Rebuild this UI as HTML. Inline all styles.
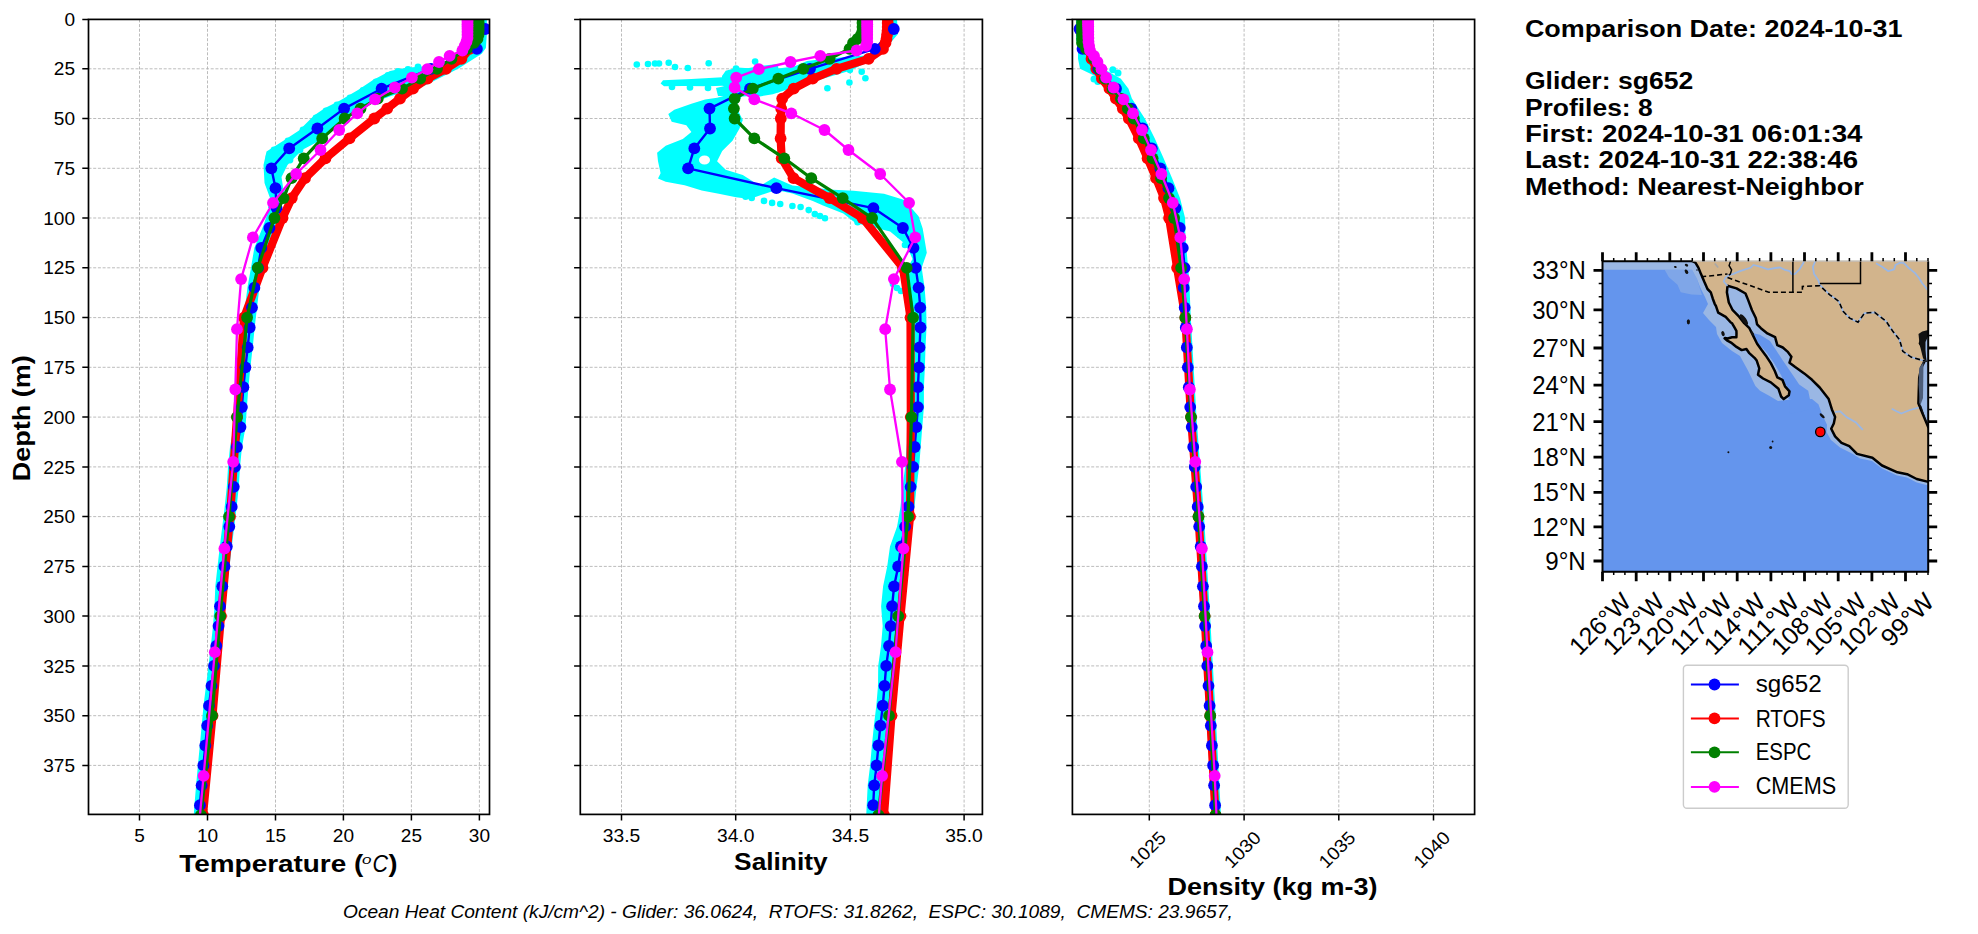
<!DOCTYPE html><html><head><meta charset="utf-8"><style>html,body{margin:0;padding:0;background:#fff;overflow:hidden}</style></head><body><svg width="1978" height="934" viewBox="0 0 1978 934" style="display:block;font-family:'Liberation Sans',sans-serif">
<rect width="100%" height="100%" fill="#fff"/>
<defs>
<clipPath id="ax0"><rect x="88.5" y="19.4" width="401.0" height="795.0"/></clipPath>
<clipPath id="ax1"><rect x="580.3" y="19.4" width="402.1" height="795.0"/></clipPath>
<clipPath id="ax2"><rect x="1072.4" y="19.4" width="402.1999999999998" height="795.0"/></clipPath>
</defs>
<path d="M88.5 68.8H489.5M88.5 118.5H489.5M88.5 168.3H489.5M88.5 218H489.5M88.5 267.8H489.5M88.5 317.6H489.5M88.5 367.3H489.5M88.5 417.1H489.5M88.5 466.9H489.5M88.5 516.6H489.5M88.5 566.4H489.5M88.5 616.1H489.5M88.5 665.9H489.5M88.5 715.7H489.5M88.5 765.4H489.5M139.5 19.4V814.4M207.5 19.4V814.4M275.5 19.4V814.4M343.4 19.4V814.4M411.4 19.4V814.4M479.4 19.4V814.4" stroke="#b0b0b0" stroke-width="0.85" stroke-dasharray="3 1.7" fill="none"/>
<g clip-path="url(#ax0)">
<polygon points="471,19.4 471,40 466,50 455,58 430,66 406,67.7 390,71 373,80 358,90 340,100.5 325,108 314,115.4 299,130.4 283,140.9 266.5,151.4 263.5,165 264.5,183 270,198 268,208 269.6,208.1 262.4,228 254.3,247.9 251,267.8 247.4,287.7 245,307.6 242.7,327.5 240.7,347.4 238.4,367.3 236.4,387.2 234.9,407.1 233.5,427.1 230,447 228,466.9 226.8,486.8 224.7,506.7 222.3,526.6 219.8,546.5 217.5,566.4 215.3,586.3 214.5,606.2 213,626.1 210.8,646 208.5,665.9 206,685.8 203.5,705.7 201.7,725.6 199.8,745.5 197.9,765.4 196.1,785.3 194.4,805.2 193.5,819.4 204,819.4 204.9,805.2 206.6,785.3 208.4,765.4 210.3,745.5 212.2,725.6 214,705.7 216.5,685.8 219,665.9 221.3,646 223.5,626.1 225,606.2 227.3,586.3 229.5,566.4 231.8,546.5 234.3,526.6 236.7,506.7 238.8,486.8 240,466.9 242,447 245.5,427.1 246.9,407.1 248.4,387.2 250.4,367.3 252.7,347.4 254.7,327.5 257,307.6 259.4,287.7 263,267.8 266.3,247.9 274.4,228 281.6,208.1 283,187 281.5,177 287.5,165 302,150 322,139.4 343,117 367,105 391,96 425,85.5 458.6,68.6 472.7,59.6 481.7,53.8 485.9,48 486.8,35 486.8,19.4" fill="#00ffff" />
<g fill="#00ffff"><circle cx="408" cy="69.5" r="3.4" fill="#00ffff"/><circle cx="398" cy="71.5" r="3.4" fill="#00ffff"/><circle cx="388" cy="75.5" r="3.4" fill="#00ffff"/><circle cx="376" cy="82" r="3.4" fill="#00ffff"/><circle cx="363" cy="90.5" r="3.4" fill="#00ffff"/><circle cx="350" cy="98" r="3.4" fill="#00ffff"/><circle cx="337" cy="105" r="3.4" fill="#00ffff"/><circle cx="326" cy="111" r="3.4" fill="#00ffff"/><circle cx="316" cy="118" r="3.4" fill="#00ffff"/><circle cx="303" cy="130" r="3.4" fill="#00ffff"/><circle cx="288" cy="141" r="3.4" fill="#00ffff"/><circle cx="274" cy="150" r="3.4" fill="#00ffff"/><circle cx="269" cy="157" r="3.4" fill="#00ffff"/><circle cx="268" cy="170" r="3.4" fill="#00ffff"/><circle cx="269" cy="184" r="3.4" fill="#00ffff"/><circle cx="430" cy="68" r="3.4" fill="#00ffff"/><circle cx="445" cy="66" r="3.4" fill="#00ffff"/><circle cx="455" cy="63" r="3.4" fill="#00ffff"/><circle cx="418" cy="67" r="3.4" fill="#00ffff"/><circle cx="300" cy="150" r="3.4" fill="#00ffff"/><circle cx="290" cy="160" r="3.4" fill="#00ffff"/><circle cx="278" cy="200" r="3.4" fill="#00ffff"/><circle cx="282" cy="193" r="3.4" fill="#00ffff"/></g>
<polyline points="485.2,29 476.9,48.9 431,68.8 381.6,88.7 344.1,108.6 317.4,128.5 289.2,148.4 271.4,168.3 275.5,188.2 276.6,208.1 269.4,228 261.3,247.9 258,267.8 254.4,287.7 252,307.6 249.7,327.5 247.7,347.4 245.4,367.3 243.4,387.2 241.9,407.1 240.5,427.1 237,447 235,466.9 233.8,486.8 231.7,506.7 229.3,526.6 226.8,546.5 224.5,566.4 222.3,586.3 220,606.2 218.5,626.1 216.3,646 214,665.9 211.5,685.8 209,705.7 207.2,725.6 205.3,745.5 203.4,765.4 201.6,785.3 199.9,805.2" fill="none" stroke="#0000ff" stroke-width="2.4" stroke-linejoin="round" stroke-linecap="round"/>
<polyline points="474,19 474,23 474,27 474,30.9 474,34.9 473.5,38.9 472.5,42.9 469.6,48.9 461.4,58.8 446,68.8 427.5,78.7 413,88.7 400,98.6 387.2,108.6 374.3,118.5 349.5,138.4 325.5,158.3 305,178.2 291.8,198.1 282.5,218 262.5,267.8 244,317.6 237,417.1 230,516.6 221,616.1 212.5,715.7 203,815.2" fill="none" stroke="#ff0000" stroke-width="8.2" stroke-linejoin="round" stroke-linecap="round"/>
<g fill="#ff0000"><circle cx="474" cy="19" r="5.9"/><circle cx="474" cy="23" r="5.9"/><circle cx="474" cy="27" r="5.9"/><circle cx="474" cy="30.9" r="5.9"/><circle cx="474" cy="34.9" r="5.9"/><circle cx="473.5" cy="38.9" r="5.9"/><circle cx="472.5" cy="42.9" r="5.9"/><circle cx="469.6" cy="48.9" r="5.9"/><circle cx="461.4" cy="58.8" r="5.9"/><circle cx="446" cy="68.8" r="5.9"/><circle cx="427.5" cy="78.7" r="5.9"/><circle cx="413" cy="88.7" r="5.9"/><circle cx="400" cy="98.6" r="5.9"/><circle cx="387.2" cy="108.6" r="5.9"/><circle cx="374.3" cy="118.5" r="5.9"/><circle cx="349.5" cy="138.4" r="5.9"/><circle cx="325.5" cy="158.3" r="5.9"/><circle cx="305" cy="178.2" r="5.9"/><circle cx="291.8" cy="198.1" r="5.9"/><circle cx="282.5" cy="218" r="5.9"/><circle cx="262.5" cy="267.8" r="5.9"/><circle cx="244" cy="317.6" r="5.9"/><circle cx="237" cy="417.1" r="5.9"/><circle cx="230" cy="516.6" r="5.9"/><circle cx="221" cy="616.1" r="5.9"/><circle cx="212.5" cy="715.7" r="5.9"/><circle cx="203" cy="815.2" r="5.9"/></g>
<g fill="#0000ff"><circle cx="485.2" cy="29" r="5.9"/><circle cx="476.9" cy="48.9" r="5.9"/><circle cx="431" cy="68.8" r="5.9"/><circle cx="381.6" cy="88.7" r="5.9"/><circle cx="344.1" cy="108.6" r="5.9"/><circle cx="317.4" cy="128.5" r="5.9"/><circle cx="289.2" cy="148.4" r="5.9"/><circle cx="271.4" cy="168.3" r="5.9"/><circle cx="275.5" cy="188.2" r="5.9"/><circle cx="276.6" cy="208.1" r="5.9"/><circle cx="269.4" cy="228" r="5.9"/><circle cx="261.3" cy="247.9" r="5.9"/><circle cx="258" cy="267.8" r="5.9"/><circle cx="254.4" cy="287.7" r="5.9"/><circle cx="252" cy="307.6" r="5.9"/><circle cx="249.7" cy="327.5" r="5.9"/><circle cx="247.7" cy="347.4" r="5.9"/><circle cx="245.4" cy="367.3" r="5.9"/><circle cx="243.4" cy="387.2" r="5.9"/><circle cx="241.9" cy="407.1" r="5.9"/><circle cx="240.5" cy="427.1" r="5.9"/><circle cx="237" cy="447" r="5.9"/><circle cx="235" cy="466.9" r="5.9"/><circle cx="233.8" cy="486.8" r="5.9"/><circle cx="231.7" cy="506.7" r="5.9"/><circle cx="229.3" cy="526.6" r="5.9"/><circle cx="226.8" cy="546.5" r="5.9"/><circle cx="224.5" cy="566.4" r="5.9"/><circle cx="222.3" cy="586.3" r="5.9"/><circle cx="220" cy="606.2" r="5.9"/><circle cx="218.5" cy="626.1" r="5.9"/><circle cx="216.3" cy="646" r="5.9"/><circle cx="214" cy="665.9" r="5.9"/><circle cx="211.5" cy="685.8" r="5.9"/><circle cx="209" cy="705.7" r="5.9"/><circle cx="207.2" cy="725.6" r="5.9"/><circle cx="205.3" cy="745.5" r="5.9"/><circle cx="203.4" cy="765.4" r="5.9"/><circle cx="201.6" cy="785.3" r="5.9"/><circle cx="199.9" cy="805.2" r="5.9"/></g>
<polyline points="478.7,19 478.7,23 478.7,27 478.7,30.9 478.5,34.9 477.5,38.9 474,42.9 467,48.9 451.5,58.8 437,68.8 420.2,78.7 402,88.7 377.8,98.6 360.5,108.6 344.6,118.5 322.2,138.4 303.7,158.3 291.5,178.2 283.6,198.1 274.4,218 257.8,267.8 247.1,317.6 237,417.1 229,516.6 220.2,616.1 212,715.7 200.9,815.2" fill="none" stroke="#008000" stroke-width="3.2" stroke-linejoin="round" stroke-linecap="round"/>
<g fill="#008000"><circle cx="478.7" cy="19" r="5.9"/><circle cx="478.7" cy="23" r="5.9"/><circle cx="478.7" cy="27" r="5.9"/><circle cx="478.7" cy="30.9" r="5.9"/><circle cx="478.5" cy="34.9" r="5.9"/><circle cx="477.5" cy="38.9" r="5.9"/><circle cx="474" cy="42.9" r="5.9"/><circle cx="467" cy="48.9" r="5.9"/><circle cx="451.5" cy="58.8" r="5.9"/><circle cx="437" cy="68.8" r="5.9"/><circle cx="420.2" cy="78.7" r="5.9"/><circle cx="402" cy="88.7" r="5.9"/><circle cx="377.8" cy="98.6" r="5.9"/><circle cx="360.5" cy="108.6" r="5.9"/><circle cx="344.6" cy="118.5" r="5.9"/><circle cx="322.2" cy="138.4" r="5.9"/><circle cx="303.7" cy="158.3" r="5.9"/><circle cx="291.5" cy="178.2" r="5.9"/><circle cx="283.6" cy="198.1" r="5.9"/><circle cx="274.4" cy="218" r="5.9"/><circle cx="257.8" cy="267.8" r="5.9"/><circle cx="247.1" cy="317.6" r="5.9"/><circle cx="237" cy="417.1" r="5.9"/><circle cx="229" cy="516.6" r="5.9"/><circle cx="220.2" cy="616.1" r="5.9"/><circle cx="212" cy="715.7" r="5.9"/><circle cx="200.9" cy="815.2" r="5.9"/></g>
<polyline points="467.5,20 467.5,22.1 467.5,24.3 467.5,26.6 467.5,29.1 467.5,31.8 467.5,34.8 467.5,38.1 466.5,41.7 464.7,45.8 462.4,50.5 449.6,55.8 439,62 427.4,69.2 411.9,77.6 394.8,87.5 375,99.3 357.3,113.3 339.2,130 320.5,150 296.2,174 273,202.8 252.9,237.4 241.1,279.1 237,329.2 235.3,389.5 233.2,461.8 224.4,548.6 214.8,652.2 203.6,775.8 190,922.6" fill="none" stroke="#ff00ff" stroke-width="2.3" stroke-linejoin="round" stroke-linecap="round"/>
<g fill="#ff00ff"><circle cx="467.5" cy="20" r="5.9"/><circle cx="467.5" cy="22.1" r="5.9"/><circle cx="467.5" cy="24.3" r="5.9"/><circle cx="467.5" cy="26.6" r="5.9"/><circle cx="467.5" cy="29.1" r="5.9"/><circle cx="467.5" cy="31.8" r="5.9"/><circle cx="467.5" cy="34.8" r="5.9"/><circle cx="467.5" cy="38.1" r="5.9"/><circle cx="466.5" cy="41.7" r="5.9"/><circle cx="464.7" cy="45.8" r="5.9"/><circle cx="462.4" cy="50.5" r="5.9"/><circle cx="449.6" cy="55.8" r="5.9"/><circle cx="439" cy="62" r="5.9"/><circle cx="427.4" cy="69.2" r="5.9"/><circle cx="411.9" cy="77.6" r="5.9"/><circle cx="394.8" cy="87.5" r="5.9"/><circle cx="375" cy="99.3" r="5.9"/><circle cx="357.3" cy="113.3" r="5.9"/><circle cx="339.2" cy="130" r="5.9"/><circle cx="320.5" cy="150" r="5.9"/><circle cx="296.2" cy="174" r="5.9"/><circle cx="273" cy="202.8" r="5.9"/><circle cx="252.9" cy="237.4" r="5.9"/><circle cx="241.1" cy="279.1" r="5.9"/><circle cx="237" cy="329.2" r="5.9"/><circle cx="235.3" cy="389.5" r="5.9"/><circle cx="233.2" cy="461.8" r="5.9"/><circle cx="224.4" cy="548.6" r="5.9"/><circle cx="214.8" cy="652.2" r="5.9"/><circle cx="203.6" cy="775.8" r="5.9"/><circle cx="190" cy="922.6" r="5.9"/></g>
</g>
<rect x="88.5" y="19.4" width="401" height="795" fill="none" stroke="#000" stroke-width="1.7"/>
<path d="M82.3 19.4H88.5M82.3 68.8H88.5M82.3 118.5H88.5M82.3 168.3H88.5M82.3 218H88.5M82.3 267.8H88.5M82.3 317.6H88.5M82.3 367.3H88.5M82.3 417.1H88.5M82.3 466.9H88.5M82.3 516.6H88.5M82.3 566.4H88.5M82.3 616.1H88.5M82.3 665.9H88.5M82.3 715.7H88.5M82.3 765.4H88.5M139.5 814.4V820.6M207.5 814.4V820.6M275.5 814.4V820.6M343.4 814.4V820.6M411.4 814.4V820.6M479.4 814.4V820.6" stroke="#000" stroke-width="1.5" fill="none"/>
<path d="M580.3 68.8H982.4M580.3 118.5H982.4M580.3 168.3H982.4M580.3 218H982.4M580.3 267.8H982.4M580.3 317.6H982.4M580.3 367.3H982.4M580.3 417.1H982.4M580.3 466.9H982.4M580.3 516.6H982.4M580.3 566.4H982.4M580.3 616.1H982.4M580.3 665.9H982.4M580.3 715.7H982.4M580.3 765.4H982.4M621.5 19.4V814.4M735.7 19.4V814.4M850.4 19.4V814.4M964.1 19.4V814.4" stroke="#b0b0b0" stroke-width="0.85" stroke-dasharray="3 1.7" fill="none"/>
<g clip-path="url(#ax1)">
<polygon points="897,19.4 898,34 890.6,42.8 876.7,54.6 849.9,56.8 823.1,58.9 807,61 794.2,66.4 769.6,69.6 737.5,67.5 725.7,70.7 722,76 722,85 729,90 742.8,94.4 760,96.4 772.8,94.2 785.7,89.9 817.8,80.3 849.9,70.7 876.7,57.8 888.4,47.1 893,19.4" fill="#00ffff" />
<polygon points="660.6,83.5 663,80.3 691.4,79 722.2,77.2 729.1,72.1 736,67 740,72 735,84 729.1,85.5 708.5,86.2 682.8,86 664,86.2" fill="#00ffff" />
<polygon points="716,88 729,85 738,84 738,96 718,96" fill="#00ffff" />
<polygon points="738,70 760,66 778,64 780,92 760,95 738,97" fill="#00ffff" />
<path d="M729.1,94.4 717.1,97.8 705.1,99.6 691.4,103.8 674.3,109.8 668.3,114.1 671.7,121.8 686.3,125.3 691.4,132.1 682.8,139 665.7,145.8 657.1,152.7 658,161.2 660.6,173.2 658,178.4 665.7,181.8 684.6,185.2 701.7,190.4 718.8,193.8 736,197.2 749.7,198.9 776.2,190 792.4,193.5 812.8,201 823,205.5 843.3,213.5 855.5,223 890.1,231.5 906.4,245 912.5,259 907.7,267.8 910.6,287.7 912.2,307.6 912.5,327.5 911.5,347.4 910.9,367.3 909.9,387.2 909.9,407.1 908.3,427.1 906.7,447 905.1,466.9 902.6,486.8 900.5,506.7 897.1,526.6 890,546.5 887.2,566.4 883.1,586.3 881.1,606.2 882.7,626.1 881,646 878.2,665.9 878,685.8 876.3,705.7 873.9,725.6 871.9,745.5 870.1,765.4 867.7,785.3 866.7,805.2 866,819.4 880,819.4 879.2,805.2 880.2,785.3 882.6,765.4 884.4,745.5 886.4,725.6 888.8,705.7 890.5,685.8 892.2,665.9 895,646 896.7,626.1 898.1,606.2 900.1,586.3 904.2,566.4 907,546.5 911.1,526.6 914.5,506.7 916.6,486.8 919.1,466.9 920.7,447 922.3,427.1 923.9,407.1 923.9,387.2 924.9,367.3 925.5,347.4 926.5,327.5 926.2,307.6 924.6,287.7 921.7,267.8 926.8,252.8 922.7,228.4 918.6,216.2 904.4,199.9 884,193.8 853.5,190.7 833.1,189.7 792.4,185.6 774.1,177.5 760,186 742.8,175 725.7,169.8 717.1,161.2 722.2,151 732.5,140.7 739.4,128.7 742.8,120.1 736,106.4 742.8,94.4Z M699,160 a5.5,4.5 0 1,0 11,0 a5.5,4.5 0 1,0 -11,0Z" fill="#00ffff" fill-rule="evenodd"/>
<g fill="#00ffff"><circle cx="636.8" cy="64.5" r="3.3" fill="#00ffff"/><circle cx="648" cy="64" r="3.3" fill="#00ffff"/><circle cx="655" cy="63.5" r="3.3" fill="#00ffff"/><circle cx="659" cy="63.5" r="3.3" fill="#00ffff"/><circle cx="668.7" cy="62.7" r="3.3" fill="#00ffff"/><circle cx="675" cy="67" r="3.3" fill="#00ffff"/><circle cx="687.8" cy="68" r="3.3" fill="#00ffff"/><circle cx="708.7" cy="63.2" r="3.3" fill="#00ffff"/><circle cx="755.1" cy="61.6" r="3.3" fill="#00ffff"/><circle cx="736" cy="68.5" r="3.3" fill="#00ffff"/><circle cx="672" cy="87" r="3.3" fill="#00ffff"/><circle cx="690" cy="87.5" r="3.3" fill="#00ffff"/><circle cx="708" cy="88" r="3.3" fill="#00ffff"/><circle cx="745.6" cy="196.8" r="3.3" fill="#00ffff"/><circle cx="751.7" cy="197.9" r="3.3" fill="#00ffff"/><circle cx="764" cy="200.9" r="3.3" fill="#00ffff"/><circle cx="772.1" cy="202.9" r="3.3" fill="#00ffff"/><circle cx="780.2" cy="204" r="3.3" fill="#00ffff"/><circle cx="792.4" cy="206" r="3.3" fill="#00ffff"/><circle cx="800.6" cy="207" r="3.3" fill="#00ffff"/><circle cx="808.7" cy="210.1" r="3.3" fill="#00ffff"/><circle cx="814.8" cy="214.1" r="3.3" fill="#00ffff"/><circle cx="820" cy="216" r="3.3" fill="#00ffff"/><circle cx="825" cy="218.2" r="3.3" fill="#00ffff"/><circle cx="857.6" cy="222.3" r="3.3" fill="#00ffff"/><circle cx="827.4" cy="88.3" r="3.3" fill="#00ffff"/><circle cx="849.4" cy="82.5" r="3.3" fill="#00ffff"/><circle cx="849.9" cy="70.1" r="3.3" fill="#00ffff"/><circle cx="861.7" cy="71.7" r="3.3" fill="#00ffff"/><circle cx="865.4" cy="78.2" r="3.3" fill="#00ffff"/><circle cx="893" cy="284" r="3.3" fill="#00ffff"/><circle cx="897" cy="288" r="3.3" fill="#00ffff"/><circle cx="901" cy="291" r="3.3" fill="#00ffff"/><circle cx="900" cy="235" r="3.3" fill="#00ffff"/><circle cx="905" cy="245" r="3.3" fill="#00ffff"/><circle cx="905" cy="575" r="3.3" fill="#00ffff"/><circle cx="890" cy="600" r="3.3" fill="#00ffff"/><circle cx="886" cy="645" r="3.3" fill="#00ffff"/></g>
<polyline points="893.8,29 874.8,48.9 810,68.8 750,88.7 709.5,108.6 710,128.5 694.3,148.4 688.1,168.3 776.4,188.2 873.4,208.1 902.9,228 913.5,247.9 915.7,267.8 918.6,287.7 920.2,307.6 920.5,327.5 919.5,347.4 918.9,367.3 917.9,387.2 917.9,407.1 916.3,427.1 914.7,447 913.1,466.9 910.6,486.8 908.5,506.7 905.1,526.6 901,546.5 898.2,566.4 894.1,586.3 892.1,606.2 890.7,626.1 889,646 886.2,665.9 884.5,685.8 882.8,705.7 880.4,725.6 878.4,745.5 876.6,765.4 874.2,785.3 873.2,805.2" fill="none" stroke="#0000ff" stroke-width="2.4" stroke-linejoin="round" stroke-linecap="round"/>
<polyline points="887.7,19 887.7,23 887.7,27 887.5,30.9 887,34.9 886.5,38.9 885.5,42.9 883,48.9 868.6,58.8 836.6,68.8 812.7,78.7 793.7,88.7 782.2,98.6 781.2,108.6 780.8,118.5 780.6,138.4 781.7,158.3 793.5,178.2 829.5,198.1 862.5,218 903,267.8 910.5,317.6 910.8,417.1 910,516.6 900.5,616.1 891.5,715.7 884,815.2" fill="none" stroke="#ff0000" stroke-width="8.2" stroke-linejoin="round" stroke-linecap="round"/>
<g fill="#ff0000"><circle cx="887.7" cy="19" r="5.9"/><circle cx="887.7" cy="23" r="5.9"/><circle cx="887.7" cy="27" r="5.9"/><circle cx="887.5" cy="30.9" r="5.9"/><circle cx="887" cy="34.9" r="5.9"/><circle cx="886.5" cy="38.9" r="5.9"/><circle cx="885.5" cy="42.9" r="5.9"/><circle cx="883" cy="48.9" r="5.9"/><circle cx="868.6" cy="58.8" r="5.9"/><circle cx="836.6" cy="68.8" r="5.9"/><circle cx="812.7" cy="78.7" r="5.9"/><circle cx="793.7" cy="88.7" r="5.9"/><circle cx="782.2" cy="98.6" r="5.9"/><circle cx="781.2" cy="108.6" r="5.9"/><circle cx="780.8" cy="118.5" r="5.9"/><circle cx="780.6" cy="138.4" r="5.9"/><circle cx="781.7" cy="158.3" r="5.9"/><circle cx="793.5" cy="178.2" r="5.9"/><circle cx="829.5" cy="198.1" r="5.9"/><circle cx="862.5" cy="218" r="5.9"/><circle cx="903" cy="267.8" r="5.9"/><circle cx="910.5" cy="317.6" r="5.9"/><circle cx="910.8" cy="417.1" r="5.9"/><circle cx="910" cy="516.6" r="5.9"/><circle cx="900.5" cy="616.1" r="5.9"/><circle cx="891.5" cy="715.7" r="5.9"/><circle cx="884" cy="815.2" r="5.9"/></g>
<g fill="#0000ff"><circle cx="893.8" cy="29" r="5.9"/><circle cx="874.8" cy="48.9" r="5.9"/><circle cx="810" cy="68.8" r="5.9"/><circle cx="750" cy="88.7" r="5.9"/><circle cx="709.5" cy="108.6" r="5.9"/><circle cx="710" cy="128.5" r="5.9"/><circle cx="694.3" cy="148.4" r="5.9"/><circle cx="688.1" cy="168.3" r="5.9"/><circle cx="776.4" cy="188.2" r="5.9"/><circle cx="873.4" cy="208.1" r="5.9"/><circle cx="902.9" cy="228" r="5.9"/><circle cx="913.5" cy="247.9" r="5.9"/><circle cx="915.7" cy="267.8" r="5.9"/><circle cx="918.6" cy="287.7" r="5.9"/><circle cx="920.2" cy="307.6" r="5.9"/><circle cx="920.5" cy="327.5" r="5.9"/><circle cx="919.5" cy="347.4" r="5.9"/><circle cx="918.9" cy="367.3" r="5.9"/><circle cx="917.9" cy="387.2" r="5.9"/><circle cx="917.9" cy="407.1" r="5.9"/><circle cx="916.3" cy="427.1" r="5.9"/><circle cx="914.7" cy="447" r="5.9"/><circle cx="913.1" cy="466.9" r="5.9"/><circle cx="910.6" cy="486.8" r="5.9"/><circle cx="908.5" cy="506.7" r="5.9"/><circle cx="905.1" cy="526.6" r="5.9"/><circle cx="901" cy="546.5" r="5.9"/><circle cx="898.2" cy="566.4" r="5.9"/><circle cx="894.1" cy="586.3" r="5.9"/><circle cx="892.1" cy="606.2" r="5.9"/><circle cx="890.7" cy="626.1" r="5.9"/><circle cx="889" cy="646" r="5.9"/><circle cx="886.2" cy="665.9" r="5.9"/><circle cx="884.5" cy="685.8" r="5.9"/><circle cx="882.8" cy="705.7" r="5.9"/><circle cx="880.4" cy="725.6" r="5.9"/><circle cx="878.4" cy="745.5" r="5.9"/><circle cx="876.6" cy="765.4" r="5.9"/><circle cx="874.2" cy="785.3" r="5.9"/><circle cx="873.2" cy="805.2" r="5.9"/></g>
<polyline points="862.5,19 862.5,23 862.5,27 862.5,30.9 861,34.9 857.5,38.9 853,42.9 849.5,48.9 829.6,58.8 803.3,68.8 778.3,78.7 752.8,88.7 734.6,98.6 733.9,108.6 734.6,118.5 754.3,138.4 784.3,158.3 811.3,178.2 842.7,198.1 872.1,218 906.7,267.8 913.1,317.6 911.5,417.1 908,516.6 898.2,616.1 889,715.7 878.4,815.2" fill="none" stroke="#008000" stroke-width="3.2" stroke-linejoin="round" stroke-linecap="round"/>
<g fill="#008000"><circle cx="862.5" cy="19" r="5.9"/><circle cx="862.5" cy="23" r="5.9"/><circle cx="862.5" cy="27" r="5.9"/><circle cx="862.5" cy="30.9" r="5.9"/><circle cx="861" cy="34.9" r="5.9"/><circle cx="857.5" cy="38.9" r="5.9"/><circle cx="853" cy="42.9" r="5.9"/><circle cx="849.5" cy="48.9" r="5.9"/><circle cx="829.6" cy="58.8" r="5.9"/><circle cx="803.3" cy="68.8" r="5.9"/><circle cx="778.3" cy="78.7" r="5.9"/><circle cx="752.8" cy="88.7" r="5.9"/><circle cx="734.6" cy="98.6" r="5.9"/><circle cx="733.9" cy="108.6" r="5.9"/><circle cx="734.6" cy="118.5" r="5.9"/><circle cx="754.3" cy="138.4" r="5.9"/><circle cx="784.3" cy="158.3" r="5.9"/><circle cx="811.3" cy="178.2" r="5.9"/><circle cx="842.7" cy="198.1" r="5.9"/><circle cx="872.1" cy="218" r="5.9"/><circle cx="906.7" cy="267.8" r="5.9"/><circle cx="913.1" cy="317.6" r="5.9"/><circle cx="911.5" cy="417.1" r="5.9"/><circle cx="908" cy="516.6" r="5.9"/><circle cx="898.2" cy="616.1" r="5.9"/><circle cx="889" cy="715.7" r="5.9"/><circle cx="878.4" cy="815.2" r="5.9"/></g>
<polyline points="867.2,20 867.2,22.1 867.2,24.3 867.2,26.6 867.2,29.1 867.2,31.8 867.2,34.8 867.2,38.1 867.2,41.7 866,45.8 856.6,50.5 820.3,55.8 790.5,62 758.8,69.2 736.2,77.6 734.6,87.5 754.3,99.3 791.3,113.3 824.5,130 848.5,150 880.2,174 909.1,202.8 915.2,237.4 893.9,279.1 885.2,329.2 890,389.5 901.9,461.8 903.4,548.6 895.5,652.2 882.1,775.8 870,922.6" fill="none" stroke="#ff00ff" stroke-width="2.3" stroke-linejoin="round" stroke-linecap="round"/>
<g fill="#ff00ff"><circle cx="867.2" cy="20" r="5.9"/><circle cx="867.2" cy="22.1" r="5.9"/><circle cx="867.2" cy="24.3" r="5.9"/><circle cx="867.2" cy="26.6" r="5.9"/><circle cx="867.2" cy="29.1" r="5.9"/><circle cx="867.2" cy="31.8" r="5.9"/><circle cx="867.2" cy="34.8" r="5.9"/><circle cx="867.2" cy="38.1" r="5.9"/><circle cx="867.2" cy="41.7" r="5.9"/><circle cx="866" cy="45.8" r="5.9"/><circle cx="856.6" cy="50.5" r="5.9"/><circle cx="820.3" cy="55.8" r="5.9"/><circle cx="790.5" cy="62" r="5.9"/><circle cx="758.8" cy="69.2" r="5.9"/><circle cx="736.2" cy="77.6" r="5.9"/><circle cx="734.6" cy="87.5" r="5.9"/><circle cx="754.3" cy="99.3" r="5.9"/><circle cx="791.3" cy="113.3" r="5.9"/><circle cx="824.5" cy="130" r="5.9"/><circle cx="848.5" cy="150" r="5.9"/><circle cx="880.2" cy="174" r="5.9"/><circle cx="909.1" cy="202.8" r="5.9"/><circle cx="915.2" cy="237.4" r="5.9"/><circle cx="893.9" cy="279.1" r="5.9"/><circle cx="885.2" cy="329.2" r="5.9"/><circle cx="890" cy="389.5" r="5.9"/><circle cx="901.9" cy="461.8" r="5.9"/><circle cx="903.4" cy="548.6" r="5.9"/><circle cx="895.5" cy="652.2" r="5.9"/><circle cx="882.1" cy="775.8" r="5.9"/><circle cx="870" cy="922.6" r="5.9"/></g>
</g>
<rect x="580.3" y="19.4" width="402.1" height="795" fill="none" stroke="#000" stroke-width="1.7"/>
<path d="M574.1 19.4H580.3M574.1 68.8H580.3M574.1 118.5H580.3M574.1 168.3H580.3M574.1 218H580.3M574.1 267.8H580.3M574.1 317.6H580.3M574.1 367.3H580.3M574.1 417.1H580.3M574.1 466.9H580.3M574.1 516.6H580.3M574.1 566.4H580.3M574.1 616.1H580.3M574.1 665.9H580.3M574.1 715.7H580.3M574.1 765.4H580.3M621.5 814.4V820.6M735.7 814.4V820.6M850.4 814.4V820.6M964.1 814.4V820.6" stroke="#000" stroke-width="1.5" fill="none"/>
<path d="M1072.4 68.8H1474.6M1072.4 118.5H1474.6M1072.4 168.3H1474.6M1072.4 218H1474.6M1072.4 267.8H1474.6M1072.4 317.6H1474.6M1072.4 367.3H1474.6M1072.4 417.1H1474.6M1072.4 466.9H1474.6M1072.4 516.6H1474.6M1072.4 566.4H1474.6M1072.4 616.1H1474.6M1072.4 665.9H1474.6M1072.4 715.7H1474.6M1072.4 765.4H1474.6M1149.3 19.4V814.4M1244.1 19.4V814.4M1338.8 19.4V814.4M1433.5 19.4V814.4" stroke="#b0b0b0" stroke-width="0.85" stroke-dasharray="3 1.7" fill="none"/>
<g clip-path="url(#ax2)">
<polygon points="1076,19 1076,38.9 1078,48.9 1078,58.8 1080,68.8 1100.9,78.7 1108.5,88.7 1120.9,98.6 1133.8,118.5 1143.8,138.4 1152.6,158.3 1161.1,178.2 1169,198.1 1174.1,218 1174.4,238 1178.1,277.8 1181.8,317.6 1187.5,417.1 1195,516.6 1201.1,616.1 1206.7,715.7 1212,815.2 1213.8,855 1222.8,855 1221,815.2 1215.7,715.7 1210.1,616.1 1204,516.6 1196.5,417.1 1190.8,317.6 1189.1,277.8 1185.4,238 1185.1,218 1180,198.1 1172.1,178.2 1163.6,158.3 1154.8,138.4 1144.8,118.5 1131.9,98.6 1128.5,88.7 1120.9,78.7 1103.3,68.8 1090,58.8 1090,48.9 1084,38.9 1084,19" fill="#00ffff" />
<g fill="#00ffff"><circle cx="1083.9" cy="64.5" r="3.5" fill="#00ffff"/><circle cx="1088" cy="67" r="3.5" fill="#00ffff"/><circle cx="1097.8" cy="81.6" r="3.5" fill="#00ffff"/><circle cx="1094" cy="79" r="3.5" fill="#00ffff"/><circle cx="1112.8" cy="69.8" r="3.5" fill="#00ffff"/><circle cx="1118" cy="73" r="3.5" fill="#00ffff"/></g>
<polyline points="1079.5,29 1082.5,48.9 1098.3,68.8 1116,88.7 1131.3,108.6 1142.6,128.5 1151.8,148.4 1160.4,168.3 1168.5,188.2 1175.5,208.1 1179.8,228 1182.8,247.9 1184.6,267.8 1183.7,287.7 1184.7,307.6 1185.8,327.5 1186.8,347.4 1187.8,367.3 1188.8,387.2 1190.2,407.1 1191.7,427.1 1193.2,447 1194.7,466.9 1196.2,486.8 1197.7,506.7 1199.2,526.6 1200.7,546.5 1201.9,566.4 1202.9,586.3 1204,606.2 1205.1,626.1 1206.2,646 1207.3,665.9 1208.5,685.8 1209.6,705.7 1210.8,725.6 1211.9,745.5 1213.1,765.4 1214.1,785.3 1215.1,805.2" fill="none" stroke="#0000ff" stroke-width="2.4" stroke-linejoin="round" stroke-linecap="round"/>
<polyline points="1086,19 1086,23 1086,27 1086,30.9 1086,34.9 1086,38.9 1086,42.9 1088.1,48.9 1091.5,58.8 1096.3,68.8 1101.9,78.7 1109.5,88.7 1115.9,98.6 1122.8,108.6 1128.8,118.5 1138.8,138.4 1147.6,158.3 1156.1,178.2 1164,198.1 1169.1,218 1177.1,267.8 1185.3,317.6 1191,417.1 1198.5,516.6 1204.6,616.1 1210.2,715.7 1215.5,815.2" fill="none" stroke="#ff0000" stroke-width="8.2" stroke-linejoin="round" stroke-linecap="round"/>
<g fill="#ff0000"><circle cx="1086" cy="19" r="5.9"/><circle cx="1086" cy="23" r="5.9"/><circle cx="1086" cy="27" r="5.9"/><circle cx="1086" cy="30.9" r="5.9"/><circle cx="1086" cy="34.9" r="5.9"/><circle cx="1086" cy="38.9" r="5.9"/><circle cx="1086" cy="42.9" r="5.9"/><circle cx="1088.1" cy="48.9" r="5.9"/><circle cx="1091.5" cy="58.8" r="5.9"/><circle cx="1096.3" cy="68.8" r="5.9"/><circle cx="1101.9" cy="78.7" r="5.9"/><circle cx="1109.5" cy="88.7" r="5.9"/><circle cx="1115.9" cy="98.6" r="5.9"/><circle cx="1122.8" cy="108.6" r="5.9"/><circle cx="1128.8" cy="118.5" r="5.9"/><circle cx="1138.8" cy="138.4" r="5.9"/><circle cx="1147.6" cy="158.3" r="5.9"/><circle cx="1156.1" cy="178.2" r="5.9"/><circle cx="1164" cy="198.1" r="5.9"/><circle cx="1169.1" cy="218" r="5.9"/><circle cx="1177.1" cy="267.8" r="5.9"/><circle cx="1185.3" cy="317.6" r="5.9"/><circle cx="1191" cy="417.1" r="5.9"/><circle cx="1198.5" cy="516.6" r="5.9"/><circle cx="1204.6" cy="616.1" r="5.9"/><circle cx="1210.2" cy="715.7" r="5.9"/><circle cx="1215.5" cy="815.2" r="5.9"/></g>
<g fill="#0000ff"><circle cx="1079.5" cy="29" r="5.9"/><circle cx="1082.5" cy="48.9" r="5.9"/><circle cx="1098.3" cy="68.8" r="5.9"/><circle cx="1116" cy="88.7" r="5.9"/><circle cx="1131.3" cy="108.6" r="5.9"/><circle cx="1142.6" cy="128.5" r="5.9"/><circle cx="1151.8" cy="148.4" r="5.9"/><circle cx="1160.4" cy="168.3" r="5.9"/><circle cx="1168.5" cy="188.2" r="5.9"/><circle cx="1175.5" cy="208.1" r="5.9"/><circle cx="1179.8" cy="228" r="5.9"/><circle cx="1182.8" cy="247.9" r="5.9"/><circle cx="1184.6" cy="267.8" r="5.9"/><circle cx="1183.7" cy="287.7" r="5.9"/><circle cx="1184.7" cy="307.6" r="5.9"/><circle cx="1185.8" cy="327.5" r="5.9"/><circle cx="1186.8" cy="347.4" r="5.9"/><circle cx="1187.8" cy="367.3" r="5.9"/><circle cx="1188.8" cy="387.2" r="5.9"/><circle cx="1190.2" cy="407.1" r="5.9"/><circle cx="1191.7" cy="427.1" r="5.9"/><circle cx="1193.2" cy="447" r="5.9"/><circle cx="1194.7" cy="466.9" r="5.9"/><circle cx="1196.2" cy="486.8" r="5.9"/><circle cx="1197.7" cy="506.7" r="5.9"/><circle cx="1199.2" cy="526.6" r="5.9"/><circle cx="1200.7" cy="546.5" r="5.9"/><circle cx="1201.9" cy="566.4" r="5.9"/><circle cx="1202.9" cy="586.3" r="5.9"/><circle cx="1204" cy="606.2" r="5.9"/><circle cx="1205.1" cy="626.1" r="5.9"/><circle cx="1206.2" cy="646" r="5.9"/><circle cx="1207.3" cy="665.9" r="5.9"/><circle cx="1208.5" cy="685.8" r="5.9"/><circle cx="1209.6" cy="705.7" r="5.9"/><circle cx="1210.8" cy="725.6" r="5.9"/><circle cx="1211.9" cy="745.5" r="5.9"/><circle cx="1213.1" cy="765.4" r="5.9"/><circle cx="1214.1" cy="785.3" r="5.9"/><circle cx="1215.1" cy="805.2" r="5.9"/></g>
<polyline points="1082,19 1082,23 1082,27 1082,30.9 1082,34.9 1082,38.9 1082,42.9 1086.1,48.9 1093.7,58.8 1099.3,68.8 1104.9,78.7 1112.5,88.7 1120.9,98.6 1127.8,108.6 1133.8,118.5 1143.8,138.4 1152.6,158.3 1161.1,178.2 1169,198.1 1174.1,218 1181.1,267.8 1185.3,317.6 1191,417.1 1198.5,516.6 1204.6,616.1 1210.2,715.7 1215.5,815.2" fill="none" stroke="#008000" stroke-width="3.2" stroke-linejoin="round" stroke-linecap="round"/>
<g fill="#008000"><circle cx="1082" cy="19" r="5.9"/><circle cx="1082" cy="23" r="5.9"/><circle cx="1082" cy="27" r="5.9"/><circle cx="1082" cy="30.9" r="5.9"/><circle cx="1082" cy="34.9" r="5.9"/><circle cx="1082" cy="38.9" r="5.9"/><circle cx="1082" cy="42.9" r="5.9"/><circle cx="1086.1" cy="48.9" r="5.9"/><circle cx="1093.7" cy="58.8" r="5.9"/><circle cx="1099.3" cy="68.8" r="5.9"/><circle cx="1104.9" cy="78.7" r="5.9"/><circle cx="1112.5" cy="88.7" r="5.9"/><circle cx="1120.9" cy="98.6" r="5.9"/><circle cx="1127.8" cy="108.6" r="5.9"/><circle cx="1133.8" cy="118.5" r="5.9"/><circle cx="1143.8" cy="138.4" r="5.9"/><circle cx="1152.6" cy="158.3" r="5.9"/><circle cx="1161.1" cy="178.2" r="5.9"/><circle cx="1169" cy="198.1" r="5.9"/><circle cx="1174.1" cy="218" r="5.9"/><circle cx="1181.1" cy="267.8" r="5.9"/><circle cx="1185.3" cy="317.6" r="5.9"/><circle cx="1191" cy="417.1" r="5.9"/><circle cx="1198.5" cy="516.6" r="5.9"/><circle cx="1204.6" cy="616.1" r="5.9"/><circle cx="1210.2" cy="715.7" r="5.9"/><circle cx="1215.5" cy="815.2" r="5.9"/></g>
<polyline points="1088,20 1088.1,22.1 1088.1,24.3 1088.2,26.6 1088.2,29.1 1088.3,31.8 1088.3,34.8 1088.4,38.1 1088.5,41.7 1089.1,45.8 1090,50.5 1094,55.8 1097.5,62 1101.5,69.2 1106.1,77.6 1113.6,87.5 1123.5,99.3 1133,113.3 1142,130 1151,150 1161.4,174 1172.8,202.8 1180.3,237.4 1184.2,279.1 1186.9,329.2 1189.9,389.5 1195.3,461.8 1201.9,548.6 1207.5,652.2 1214.7,775.8 1221.4,922.6" fill="none" stroke="#ff00ff" stroke-width="2.3" stroke-linejoin="round" stroke-linecap="round"/>
<g fill="#ff00ff"><circle cx="1088" cy="20" r="5.9"/><circle cx="1088.1" cy="22.1" r="5.9"/><circle cx="1088.1" cy="24.3" r="5.9"/><circle cx="1088.2" cy="26.6" r="5.9"/><circle cx="1088.2" cy="29.1" r="5.9"/><circle cx="1088.3" cy="31.8" r="5.9"/><circle cx="1088.3" cy="34.8" r="5.9"/><circle cx="1088.4" cy="38.1" r="5.9"/><circle cx="1088.5" cy="41.7" r="5.9"/><circle cx="1089.1" cy="45.8" r="5.9"/><circle cx="1090" cy="50.5" r="5.9"/><circle cx="1094" cy="55.8" r="5.9"/><circle cx="1097.5" cy="62" r="5.9"/><circle cx="1101.5" cy="69.2" r="5.9"/><circle cx="1106.1" cy="77.6" r="5.9"/><circle cx="1113.6" cy="87.5" r="5.9"/><circle cx="1123.5" cy="99.3" r="5.9"/><circle cx="1133" cy="113.3" r="5.9"/><circle cx="1142" cy="130" r="5.9"/><circle cx="1151" cy="150" r="5.9"/><circle cx="1161.4" cy="174" r="5.9"/><circle cx="1172.8" cy="202.8" r="5.9"/><circle cx="1180.3" cy="237.4" r="5.9"/><circle cx="1184.2" cy="279.1" r="5.9"/><circle cx="1186.9" cy="329.2" r="5.9"/><circle cx="1189.9" cy="389.5" r="5.9"/><circle cx="1195.3" cy="461.8" r="5.9"/><circle cx="1201.9" cy="548.6" r="5.9"/><circle cx="1207.5" cy="652.2" r="5.9"/><circle cx="1214.7" cy="775.8" r="5.9"/><circle cx="1221.4" cy="922.6" r="5.9"/></g>
</g>
<rect x="1072.4" y="19.4" width="402.2" height="795" fill="none" stroke="#000" stroke-width="1.7"/>
<path d="M1066.2 19.4H1072.4M1066.2 68.8H1072.4M1066.2 118.5H1072.4M1066.2 168.3H1072.4M1066.2 218H1072.4M1066.2 267.8H1072.4M1066.2 317.6H1072.4M1066.2 367.3H1072.4M1066.2 417.1H1072.4M1066.2 466.9H1072.4M1066.2 516.6H1072.4M1066.2 566.4H1072.4M1066.2 616.1H1072.4M1066.2 665.9H1072.4M1066.2 715.7H1072.4M1066.2 765.4H1072.4M1149.3 814.4V820.6M1244.1 814.4V820.6M1338.8 814.4V820.6M1433.5 814.4V820.6" stroke="#000" stroke-width="1.5" fill="none"/>
<text x="75" y="25.6" font-size="18.2" text-anchor="end" textLength="10.6" lengthAdjust="spacingAndGlyphs">0</text>
<text x="75" y="75.4" font-size="18.2" text-anchor="end" textLength="21.2" lengthAdjust="spacingAndGlyphs">25</text>
<text x="75" y="125.1" font-size="18.2" text-anchor="end" textLength="21.2" lengthAdjust="spacingAndGlyphs">50</text>
<text x="75" y="174.9" font-size="18.2" text-anchor="end" textLength="21.2" lengthAdjust="spacingAndGlyphs">75</text>
<text x="75" y="224.6" font-size="18.2" text-anchor="end" textLength="31.8" lengthAdjust="spacingAndGlyphs">100</text>
<text x="75" y="274.4" font-size="18.2" text-anchor="end" textLength="31.8" lengthAdjust="spacingAndGlyphs">125</text>
<text x="75" y="324.2" font-size="18.2" text-anchor="end" textLength="31.8" lengthAdjust="spacingAndGlyphs">150</text>
<text x="75" y="373.9" font-size="18.2" text-anchor="end" textLength="31.8" lengthAdjust="spacingAndGlyphs">175</text>
<text x="75" y="423.7" font-size="18.2" text-anchor="end" textLength="31.8" lengthAdjust="spacingAndGlyphs">200</text>
<text x="75" y="473.5" font-size="18.2" text-anchor="end" textLength="31.8" lengthAdjust="spacingAndGlyphs">225</text>
<text x="75" y="523.2" font-size="18.2" text-anchor="end" textLength="31.8" lengthAdjust="spacingAndGlyphs">250</text>
<text x="75" y="573" font-size="18.2" text-anchor="end" textLength="31.8" lengthAdjust="spacingAndGlyphs">275</text>
<text x="75" y="622.8" font-size="18.2" text-anchor="end" textLength="31.8" lengthAdjust="spacingAndGlyphs">300</text>
<text x="75" y="672.5" font-size="18.2" text-anchor="end" textLength="31.8" lengthAdjust="spacingAndGlyphs">325</text>
<text x="75" y="722.3" font-size="18.2" text-anchor="end" textLength="31.8" lengthAdjust="spacingAndGlyphs">350</text>
<text x="75" y="772" font-size="18.2" text-anchor="end" textLength="31.8" lengthAdjust="spacingAndGlyphs">375</text>
<text x="139.5" y="841.9" font-size="18.2" text-anchor="middle" textLength="10.6" lengthAdjust="spacingAndGlyphs">5</text>
<text x="207.5" y="841.9" font-size="18.2" text-anchor="middle" textLength="21.2" lengthAdjust="spacingAndGlyphs">10</text>
<text x="275.5" y="841.9" font-size="18.2" text-anchor="middle" textLength="21.2" lengthAdjust="spacingAndGlyphs">15</text>
<text x="343.4" y="841.9" font-size="18.2" text-anchor="middle" textLength="21.2" lengthAdjust="spacingAndGlyphs">20</text>
<text x="411.4" y="841.9" font-size="18.2" text-anchor="middle" textLength="21.2" lengthAdjust="spacingAndGlyphs">25</text>
<text x="479.4" y="841.9" font-size="18.2" text-anchor="middle" textLength="21.2" lengthAdjust="spacingAndGlyphs">30</text>
<text x="621.5" y="841.9" font-size="18.2" text-anchor="middle" textLength="37.5" lengthAdjust="spacingAndGlyphs">33.5</text>
<text x="735.7" y="841.9" font-size="18.2" text-anchor="middle" textLength="37.5" lengthAdjust="spacingAndGlyphs">34.0</text>
<text x="850.4" y="841.9" font-size="18.2" text-anchor="middle" textLength="37.5" lengthAdjust="spacingAndGlyphs">34.5</text>
<text x="964.1" y="841.9" font-size="18.2" text-anchor="middle" textLength="37.5" lengthAdjust="spacingAndGlyphs">35.0</text>
<text x="0" y="0" font-size="18.2" text-anchor="middle" textLength="43" lengthAdjust="spacingAndGlyphs" transform="translate(1152,854.1) rotate(-45)">1025</text>
<text x="0" y="0" font-size="18.2" text-anchor="middle" textLength="43" lengthAdjust="spacingAndGlyphs" transform="translate(1246.8,854.1) rotate(-45)">1030</text>
<text x="0" y="0" font-size="18.2" text-anchor="middle" textLength="43" lengthAdjust="spacingAndGlyphs" transform="translate(1341.5,854.1) rotate(-45)">1035</text>
<text x="0" y="0" font-size="18.2" text-anchor="middle" textLength="43" lengthAdjust="spacingAndGlyphs" transform="translate(1436.2,854.1) rotate(-45)">1040</text>
<text x="179.3" y="872.2" font-size="23.8" font-weight="bold" textLength="184" lengthAdjust="spacingAndGlyphs">Temperature (</text>
<text x="362" y="864.2" font-size="13.5" font-style="italic" textLength="9.5" lengthAdjust="spacingAndGlyphs">o</text>
<text x="372.5" y="872.2" font-size="23.8" font-style="italic" textLength="15.5" lengthAdjust="spacingAndGlyphs">C</text>
<text x="388.5" y="872.2" font-size="23.8" font-weight="bold" textLength="9" lengthAdjust="spacingAndGlyphs">)</text>
<text x="734.1" y="870" font-size="23.8" text-anchor="start" font-weight="bold" textLength="93.5" lengthAdjust="spacingAndGlyphs">Salinity</text>
<text x="1167.6" y="895.4" font-size="23.8" text-anchor="start" font-weight="bold" textLength="210" lengthAdjust="spacingAndGlyphs">Density (kg m-3)</text>
<text x="0" y="0" font-size="23.8" text-anchor="start" font-weight="bold" textLength="126" lengthAdjust="spacingAndGlyphs" transform="translate(30.1,481.2) rotate(-90)">Depth (m)</text>
<text x="343" y="918" font-size="18.3" text-anchor="start" font-style="italic" textLength="889.7" lengthAdjust="spacingAndGlyphs">Ocean Heat Content (kJ/cm^2) - Glider: 36.0624,&#160; RTOFS: 31.8262,&#160; ESPC: 30.1089,&#160; CMEMS: 23.9657,</text>
<text x="1524.9" y="36.7" font-size="23.5" text-anchor="start" font-weight="bold" textLength="377.5" lengthAdjust="spacingAndGlyphs">Comparison Date: 2024-10-31</text>
<text x="1524.9" y="89.4" font-size="23.5" text-anchor="start" font-weight="bold" textLength="168.4" lengthAdjust="spacingAndGlyphs">Glider: sg652</text>
<text x="1524.9" y="116" font-size="23.5" text-anchor="start" font-weight="bold" textLength="127.8" lengthAdjust="spacingAndGlyphs">Profiles: 8</text>
<text x="1524.9" y="142.1" font-size="23.5" text-anchor="start" font-weight="bold" textLength="337.6" lengthAdjust="spacingAndGlyphs">First: 2024-10-31 06:01:34</text>
<text x="1524.9" y="168.4" font-size="23.5" text-anchor="start" font-weight="bold" textLength="333.2" lengthAdjust="spacingAndGlyphs">Last: 2024-10-31 22:38:46</text>
<text x="1524.9" y="195.3" font-size="23.5" text-anchor="start" font-weight="bold" textLength="338.8" lengthAdjust="spacingAndGlyphs">Method: Nearest-Neighbor</text>
<rect x="1683.4" y="665.3" width="164.8" height="143" rx="3.5" fill="#fff" fill-opacity="0.8" stroke="#cccccc" stroke-width="1.4"/>
<path d="M1690.9 684.5H1738.9" stroke="#0000ff" stroke-width="2"/>
<circle cx="1714.5" cy="684.5" r="5.9" fill="#0000ff"/>
<text x="1755.7" y="692.3" font-size="23.1" text-anchor="start" textLength="65.9" lengthAdjust="spacingAndGlyphs">sg652</text>
<path d="M1690.9 718.4H1738.9" stroke="#ff0000" stroke-width="2"/>
<circle cx="1714.5" cy="718.4" r="5.9" fill="#ff0000"/>
<text x="1755.7" y="726.6" font-size="23.1" text-anchor="start" textLength="69.9" lengthAdjust="spacingAndGlyphs">RTOFS</text>
<path d="M1690.9 752.3H1738.9" stroke="#008000" stroke-width="2"/>
<circle cx="1714.5" cy="752.3" r="5.9" fill="#008000"/>
<text x="1755.7" y="760.4" font-size="23.1" text-anchor="start" textLength="55.6" lengthAdjust="spacingAndGlyphs">ESPC</text>
<path d="M1690.9 786.9H1738.9" stroke="#ff00ff" stroke-width="2"/>
<circle cx="1714.5" cy="786.9" r="5.9" fill="#ff00ff"/>
<text x="1755.7" y="794.1" font-size="23.1" text-anchor="start" textLength="80.5" lengthAdjust="spacingAndGlyphs">CMEMS</text>
<defs><clipPath id="mapc"><rect x="1602.5" y="261.2" width="325.7" height="310.5"/></clipPath></defs>
<g clip-path="url(#mapc)">
<rect x="1602.5" y="261.2" width="325.7" height="310.5" fill="#6495ed"/>
<polygon points="1720,250 1720,290 1728,305 1737,318 1743,330 1752,345 1763,372 1785,393 1790,400 1812,399.1 1818.4,404.2 1822.2,414.5 1827,424.8 1826.5,432 1831,440 1840,447.5 1852,453.5 1860,458.5 1872,461 1882,468.5 1897,475.5 1907,477.5 1916.7,482.5 1928.3,485.5 1935,486 1935,250" fill="#9ab7e4" />
<polygon points="1752,333 1760,334.7 1770,341 1776,350 1782.5,360 1792.1,374.1 1799.2,384.4 1808.2,390.8 1810.1,399.8 1816,408 1790,414 1789,400 1787,388 1781,375 1774,363 1767,353 1758,343" fill="#6495ed" />
<polygon points="1600,258 1698,258 1706,275 1718,300 1725,313 1742,330 1745,338 1752,350 1765,370 1785,395 1790,400 1790.8,399.5 1778,401.1 1769.6,396 1760,390.8 1755.4,386 1747.7,370 1740,356 1732,351 1722,343 1717,334 1716,327 1709,320 1703,313 1708,304 1705,297 1700,287 1697,279 1692,269.8 1600,269.8" fill="#9ab7e4" />
<polygon points="1664.6,269.8 1668.9,277.3 1677.5,284.8 1680.7,292.3 1691.4,294.4 1702,295 1697,279 1692,269.8" fill="#9ab7e4" opacity="0.5"/>
<polygon points="1916,330 1930,330 1930,430 1916,430" fill="#9ab7e4" />
<polygon points="1692.5,258 1692.5,261.2 1695.4,262.7 1698.4,267.6 1701,274.1 1702.5,277.5 1704.2,281.6 1707.5,289 1710.8,292.3 1712.8,298.7 1714.7,303.8 1716,306.2 1718.2,312.6 1725.7,316.9 1730.8,322.5 1732.1,323.3 1734.6,327.6 1736.4,330.8 1736.5,333.4 1736.4,337.2 1732.1,337.2 1727.5,338.5 1725,337.9 1724.6,338.3 1726.9,340.4 1731,342.6 1736.5,346.9 1741.7,350.1 1746.4,349 1749,352.8 1754.5,357.8 1756.7,360.6 1759.3,368.3 1758,374.7 1763.1,378.5 1770.8,382.4 1778.5,388.8 1781.1,396.5 1783.7,399.1 1788.8,395.2 1789.5,391.4 1785,386.3 1782.4,379.8 1777.3,377.3 1774.7,370.8 1770.8,363.1 1765.7,355.4 1761.8,350.3 1757.1,343.7 1752,333.4 1749.4,328.2 1744.2,323.1 1739.1,316.7 1732.7,310.2 1728.8,302.5 1726.9,292.3 1727.5,285.8 1736.5,288.4 1745.5,293.5 1748.1,299.9 1752,310.2 1755.8,318 1757.1,324.4 1760.9,328.2 1767.4,333.4 1775.1,337.2 1777.3,345.1 1782.8,347.5 1787.5,351.6 1791.4,356.7 1789.5,362.7 1795.2,367 1804.2,373.4 1812,379.8 1819.7,387.5 1828.7,399.1 1831.9,409.4 1835.1,417.1 1833.8,423.5 1831.2,428.7 1835.1,436.4 1841.5,442.8 1849.3,446.2 1857,453.9 1872.4,457.8 1882,465.5 1897.4,472.3 1907.1,474.2 1916.7,479 1928.3,481.9 1932,482 1932,428 1928.3,427.2 1921.4,410.8 1918.4,403.3 1919.2,377.8 1921.4,367.4 1925.2,359.9 1923.7,349.4 1919.9,343.4 1922.2,336.7 1928.2,332.2 1932,332 1932,258" fill="#d2b48c" stroke="#000" stroke-width="2.5" stroke-linejoin="round"/>
<polygon points="1918.5,334 1922.2,331.5 1928.2,330 1928.2,336 1925.5,342 1925.5,361 1923,358 1921.5,352 1919.5,344" fill="#111" />
<polygon points="1919.2,368 1923.5,362 1923,398 1920,406 1918.6,385" fill="#4d5d78" />
<polygon points="1918.4,403.3 1921.4,406 1928.2,427.2 1921.4,410.8" fill="#111" />
<ellipse cx="1744" cy="319.5" rx="2.2" ry="6.3" transform="rotate(-35 1744 319.5)" fill="#111"/>
<ellipse cx="1752.5" cy="333.5" rx="1.2" ry="2.5" transform="rotate(-30 1752.5 333.5)" fill="#111"/>
<ellipse cx="1688.4" cy="321.8" rx="1.6" ry="2.6" transform="rotate(0 1688.4 321.8)" fill="#111"/>
<ellipse cx="1675.3" cy="267" rx="1.4" ry="1.0" transform="rotate(20 1675.3 267)" fill="#111"/>
<ellipse cx="1686.5" cy="265.2" rx="1.8" ry="1.3" transform="rotate(30 1686.5 265.2)" fill="#111"/>
<ellipse cx="1686.5" cy="271.7" rx="1.6" ry="2.4" transform="rotate(-30 1686.5 271.7)" fill="#111"/>
<ellipse cx="1723" cy="333.6" rx="1.6" ry="2.6" transform="rotate(-20 1723 333.6)" fill="#111"/>
<ellipse cx="1822.2" cy="415.8" rx="1.3" ry="3.2" transform="rotate(-45 1822.2 415.8)" fill="#111"/>
<ellipse cx="1728.4" cy="452.2" rx="1.0" ry="1.0" transform="rotate(0 1728.4 452.2)" fill="#111"/>
<ellipse cx="1770.7" cy="447.5" rx="1.5" ry="1.5" transform="rotate(0 1770.7 447.5)" fill="#111"/>
<ellipse cx="1772.6" cy="441.5" rx="0.9" ry="0.9" transform="rotate(0 1772.6 441.5)" fill="#111"/>
<ellipse cx="1697" cy="270" rx="0.8" ry="0.8" transform="rotate(0 1697 270)" fill="#111"/>
<polyline points="1727.5,285.8 1723.7,281.5 1725.5,277.5 1729,275 1732.8,274.1 1740,271.1 1751,267.5 1753.4,265 1758.3,266.2 1768,269.3 1775.2,268 1780.1,267.5 1785,269.9 1789.8,271.1 1791.6,274.1 1794.7,274.1 1799.5,269.3 1803.2,263.2 1804,261" fill="none" stroke="#9ab7e4" stroke-width="1.8" stroke-linejoin="round"/>
<polyline points="1815.3,261 1812.9,266.8 1814.1,274.1 1818.2,279.9 1819.8,284.9 1829.8,294.8 1838.9,301.5 1843.1,311.4 1849.7,318.1 1858,322.2 1864.6,313.1 1874.6,312.3 1886.2,321.4 1892.8,331.3 1899.5,339.6 1902.8,351.3 1911.1,357.1 1922.7,360.4 1926.9,361.2" fill="none" stroke="#9ab7e4" stroke-width="1.8" stroke-linejoin="round"/>
<polyline points="1876,263.2 1882,266.8 1888.1,271.1 1894.2,269.3 1895.4,265 1900.2,262.6 1903.9,263.2 1908.7,268 1914.8,272.9 1919,278 1922,283 1927.7,290" fill="none" stroke="#9ab7e4" stroke-width="1.8" stroke-linejoin="round"/>
<polyline points="1835,412 1840.2,411.3 1846.6,417.1 1855.6,422.2 1862.8,429.9" fill="none" stroke="#9ab7e4" stroke-width="1.8" stroke-linejoin="round"/>
<polyline points="1891.7,408.7 1896,411 1901.3,413.5 1910,410 1918.6,407.7" fill="none" stroke="#9ab7e4" stroke-width="1.8" stroke-linejoin="round"/>
<polyline points="" fill="none" stroke="#9ab7e4" stroke-width="1.8" stroke-linejoin="round"/>
<polyline points="1701.2,276.8 1727.5,274" fill="none" stroke="#000" stroke-width="1.6" stroke-dasharray="5 3"/>
<polyline points="1727.5,277.5 1768.7,292.3 1802.4,292.3 1802.4,286.5 1819.8,285.7 1829.8,294.8 1838.9,301.5 1843.1,311.4 1849.7,318.1 1858,322.2 1864.6,313.1 1874.6,312.3 1886.2,321.4 1892.8,331.3 1899.5,339.6 1902.8,351.3 1911.1,357.1 1922.7,360.4 1926.9,361.2" fill="none" stroke="#000" stroke-width="1.6" stroke-dasharray="5 3"/>
<polyline points="1730.3,261 1730.3,262 1729.1,265.6 1731.6,269.9 1730.3,274.1 1728.8,275" fill="none" stroke="#000" stroke-width="1.5"/>
<polyline points="1792.9,261 1792.9,292.3" fill="none" stroke="#000" stroke-width="1.5"/>
<polyline points="1819.8,283.5 1860.5,283.5 1860.5,261" fill="none" stroke="#000" stroke-width="1.5"/>
<path d="M1714.8 263.5L1718.2 267.5" stroke="#a8a8a8" stroke-width="1.8"/>
<circle cx="1820.3" cy="431.9" r="4.7" fill="#ff0000" stroke="#000" stroke-width="1.3"/>
</g>
<path d="M1692.5 261.2H1602.5V571.7H1928.2V261.2" fill="none" stroke="#000" stroke-width="2"/>
<path d="M1692.5 260.9H1928.2" fill="none" stroke="#c9c4bb" stroke-width="1.2"/>
<path d="M1602.5 571.7V581.2M1602.5 261.2V252.2M1636.2 571.7V581.2M1636.2 261.2V252.2M1669.8 571.7V581.2M1669.8 261.2V252.2M1703.5 571.7V581.2M1703.5 261.2V252.2M1737.2 571.7V581.2M1737.2 261.2V252.2M1770.9 571.7V581.2M1770.9 261.2V252.2M1804.5 571.7V581.2M1804.5 261.2V252.2M1838.2 571.7V581.2M1838.2 261.2V252.2M1871.9 571.7V581.2M1871.9 261.2V252.2M1905.5 571.7V581.2M1905.5 261.2V252.2M1602.5 561H1593.5M1928.2 561H1937.2M1602.5 526.8H1593.5M1928.2 526.8H1937.2M1602.5 492.3H1593.5M1928.2 492.3H1937.2M1602.5 457.2H1593.5M1928.2 457.2H1937.2M1602.5 421.6H1593.5M1928.2 421.6H1937.2M1602.5 385.2H1593.5M1928.2 385.2H1937.2M1602.5 348H1593.5M1928.2 348H1937.2M1602.5 309.8H1593.5M1928.2 309.8H1937.2M1602.5 270.4H1593.5M1928.2 270.4H1937.2" stroke="#000" stroke-width="2.8" fill="none"/>
<path d="M1613.7 571.7V574.9M1613.7 261.2V258M1624.9 571.7V574.9M1624.9 261.2V258M1647.4 571.7V574.9M1647.4 261.2V258M1658.6 571.7V574.9M1658.6 261.2V258M1681.1 571.7V574.9M1681.1 261.2V258M1692.3 571.7V574.9M1692.3 261.2V258M1714.7 571.7V574.9M1714.7 261.2V258M1726 571.7V574.9M1726 261.2V258M1748.4 571.7V574.9M1748.4 261.2V258M1759.6 571.7V574.9M1759.6 261.2V258M1782.1 571.7V574.9M1782.1 261.2V258M1793.3 571.7V574.9M1793.3 261.2V258M1815.8 571.7V574.9M1815.8 261.2V258M1827 571.7V574.9M1827 261.2V258M1849.4 571.7V574.9M1849.4 261.2V258M1860.7 571.7V574.9M1860.7 261.2V258M1883.1 571.7V574.9M1883.1 261.2V258M1894.3 571.7V574.9M1894.3 261.2V258M1916.8 571.7V574.9M1916.8 261.2V258M1928 571.7V574.9M1928 261.2V258M1602.5 549.7H1598.7M1928.2 549.7H1932M1602.5 538.3H1598.7M1928.2 538.3H1932M1602.5 515.4H1598.7M1928.2 515.4H1932M1602.5 503.9H1598.7M1928.2 503.9H1932M1602.5 480.7H1598.7M1928.2 480.7H1932M1602.5 469H1598.7M1928.2 469H1932M1602.5 445.4H1598.7M1928.2 445.4H1932M1602.5 433.6H1598.7M1928.2 433.6H1932M1602.5 409.6H1598.7M1928.2 409.6H1932M1602.5 397.4H1598.7M1928.2 397.4H1932M1602.5 372.9H1598.7M1928.2 372.9H1932M1602.5 360.5H1598.7M1928.2 360.5H1932M1602.5 335.4H1598.7M1928.2 335.4H1932M1602.5 322.6H1598.7M1928.2 322.6H1932M1602.5 296.8H1598.7M1928.2 296.8H1932M1602.5 283.6H1598.7M1928.2 283.6H1932" stroke="#000" stroke-width="1.5" fill="none"/>
<text x="1585.8" y="570" font-size="25" text-anchor="end" textLength="40.5" lengthAdjust="spacingAndGlyphs">9°N</text>
<text x="1585.8" y="535.8" font-size="25" text-anchor="end" textLength="53.5" lengthAdjust="spacingAndGlyphs">12°N</text>
<text x="1585.8" y="501.3" font-size="25" text-anchor="end" textLength="53.5" lengthAdjust="spacingAndGlyphs">15°N</text>
<text x="1585.8" y="466.2" font-size="25" text-anchor="end" textLength="53.5" lengthAdjust="spacingAndGlyphs">18°N</text>
<text x="1585.8" y="430.6" font-size="25" text-anchor="end" textLength="53.5" lengthAdjust="spacingAndGlyphs">21°N</text>
<text x="1585.8" y="394.2" font-size="25" text-anchor="end" textLength="53.5" lengthAdjust="spacingAndGlyphs">24°N</text>
<text x="1585.8" y="357" font-size="25" text-anchor="end" textLength="53.5" lengthAdjust="spacingAndGlyphs">27°N</text>
<text x="1585.8" y="318.8" font-size="25" text-anchor="end" textLength="53.5" lengthAdjust="spacingAndGlyphs">30°N</text>
<text x="1585.8" y="279.4" font-size="25" text-anchor="end" textLength="53.5" lengthAdjust="spacingAndGlyphs">33°N</text>
<text x="0" y="0" font-size="25" text-anchor="end" textLength="75" lengthAdjust="spacingAndGlyphs" transform="translate(1632.5,603.5) rotate(-45)">126°W</text>
<text x="0" y="0" font-size="25" text-anchor="end" textLength="75" lengthAdjust="spacingAndGlyphs" transform="translate(1666.2,603.5) rotate(-45)">123°W</text>
<text x="0" y="0" font-size="25" text-anchor="end" textLength="75" lengthAdjust="spacingAndGlyphs" transform="translate(1699.8,603.5) rotate(-45)">120°W</text>
<text x="0" y="0" font-size="25" text-anchor="end" textLength="75" lengthAdjust="spacingAndGlyphs" transform="translate(1733.5,603.5) rotate(-45)">117°W</text>
<text x="0" y="0" font-size="25" text-anchor="end" textLength="75" lengthAdjust="spacingAndGlyphs" transform="translate(1767.2,603.5) rotate(-45)">114°W</text>
<text x="0" y="0" font-size="25" text-anchor="end" textLength="75" lengthAdjust="spacingAndGlyphs" transform="translate(1800.9,603.5) rotate(-45)">111°W</text>
<text x="0" y="0" font-size="25" text-anchor="end" textLength="75" lengthAdjust="spacingAndGlyphs" transform="translate(1834.5,603.5) rotate(-45)">108°W</text>
<text x="0" y="0" font-size="25" text-anchor="end" textLength="75" lengthAdjust="spacingAndGlyphs" transform="translate(1868.2,603.5) rotate(-45)">105°W</text>
<text x="0" y="0" font-size="25" text-anchor="end" textLength="75" lengthAdjust="spacingAndGlyphs" transform="translate(1901.9,603.5) rotate(-45)">102°W</text>
<text x="0" y="0" font-size="25" text-anchor="end" textLength="63" lengthAdjust="spacingAndGlyphs" transform="translate(1935.5,603.5) rotate(-45)">99°W</text>
</svg></body></html>
